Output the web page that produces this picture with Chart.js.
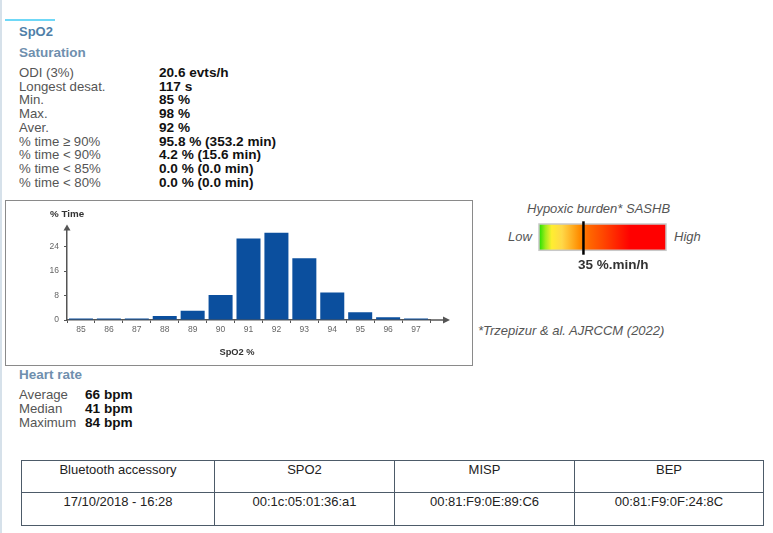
<!DOCTYPE html>
<html>
<head>
<meta charset="utf-8">
<script src="https://cdn.jsdelivr.net/npm/chart.js@4.4.1/dist/chart.umd.min.js"></script>
<style>
  body { margin: 0; width: 773px; height: 533px; background: #fff; position: relative; overflow: hidden;
         font-family: "Liberation Sans", Arial, sans-serif; }
  .abs { position: absolute; white-space: nowrap; }
  .head { font-weight: bold; font-size: 13.5px; line-height: 16px; color: #6f8fae; }
  .lbl { font-size: 13.2px; color: #555; }
  .val { font-size: 13.6px; color: #111; font-weight: bold; }
  .it { font-style: italic; color: #555; font-size: 13px; line-height: 16px; }
  table.acc { position: absolute; left: 21px; top: 460px; border-collapse: collapse; font-size: 13px; color: #222; }
  table.acc td { border: 1.5px solid #4d5b69; text-align: center; vertical-align: top; padding: 1px 0 0 0; }
</style>
</head>
<body>
<div class="abs" style="left:0;top:0;width:2px;height:533px;background:#d6e1ea"></div>
<div class="abs" style="left:5px;top:18.8px;width:50px;height:2.2px;background:#6fd8f7"></div>

<div class="abs head" style="left:19px;top:24.3px;font-size:13px;color:#4f7fa9">SpO2</div>
<div class="abs head" style="left:19px;top:44.7px">Saturation</div>

<div class="abs lbl" style="left:19px;top:65.8px;line-height:13.75px">
  ODI (3%)<br>Longest desat.<br>Min.<br>Max.<br>Aver.<br>% time &ge; 90%<br>% time &lt; 90%<br>% time &lt; 85%<br>% time &lt; 80%
</div>
<div class="abs val" style="left:159px;top:65.8px;line-height:13.75px">
  20.6 evts/h<br>117 s<br>85 %<br>98 %<br>92 %<br>95.8 % (353.2 min)<br>4.2 % (15.6 min)<br>0.0 % (0.0 min)<br>0.0 % (0.0 min)
</div>

<div class="abs" style="left:5px;top:200px;width:468px;height:166px;box-sizing:border-box;border:1px solid #8a8a8a"></div>
<canvas id="histo" class="abs" style="left:7px;top:201px" width="465" height="164"></canvas>

<div class="abs it" style="left:527px;top:201px">Hypoxic burden* SASHB</div>
<div class="abs it" style="left:508px;top:229px">Low</div>
<div class="abs it" style="left:674px;top:229px">High</div>
<canvas id="gauge" class="abs" style="left:536px;top:218px" width="133" height="40"></canvas>
<div class="abs" style="left:578px;top:257px;font-size:13.5px;line-height:16px;font-weight:bold;color:#333">35 %.min/h</div>
<div class="abs it" style="left:478px;top:323px">*Trzepizur &amp; al. AJRCCM (2022)</div>

<div class="abs head" style="left:19px;top:367px">Heart rate</div>
<div class="abs lbl" style="left:19px;top:388.1px;line-height:13.8px">Average<br>Median<br>Maximum</div>
<div class="abs val" style="left:85px;top:388.1px;line-height:13.8px">66 bpm<br>41 bpm<br>84 bpm</div>

<table class="acc">
  <tr style="height:32px">
    <td style="width:192px">Bluetooth accessory</td>
    <td style="width:179px">SPO2</td>
    <td style="width:179px">MISP</td>
    <td style="width:188px">BEP</td>
  </tr>
  <tr style="height:33px">
    <td>17/10/2018 - 16:28</td>
    <td>00:1c:05:01:36:a1</td>
    <td>00:81:F9:0E:89:C6</td>
    <td>00:81:F9:0F:24:8C</td>
  </tr>
</table>

<script>
// SpO2 histogram values, % of time per saturation level
const spo2Levels = ['85', '86', '87', '88', '89', '90', '91', '92', '93', '94', '95', '96', '97'];
const timePercent = [0.5, 0.5, 0.5, 1.3, 3.0, 8.2, 26.7, 28.6, 20.2, 9.0, 2.5, 0.9, 0.5];
const yTicks = [0, 8, 16, 24];
const yMax = 30;

// Hypoxic burden gauge
const gaugeRange = [0, 100];
const hypoxicBurden = 35;

const axisColor = '#555';
const tickFont = { size: 8.5, family: '"Liberation Sans", Arial, sans-serif' };

// Arrow heads on both axes plus the two axis titles
const axisArrows = {
    id: 'axisArrows',
    afterDraw(chart) {
        const ctx = chart.ctx;
        const a = chart.chartArea;
        ctx.save();
        ctx.strokeStyle = axisColor;
        ctx.fillStyle = axisColor;
        ctx.lineWidth = 1.5;

        // x axis extension + arrow
        ctx.beginPath();
        ctx.moveTo(a.right, a.bottom);
        ctx.lineTo(a.right + 14, a.bottom);
        ctx.stroke();
        ctx.beginPath();
        ctx.moveTo(a.right + 20, a.bottom);
        ctx.lineTo(a.right + 13, a.bottom - 3.5);
        ctx.lineTo(a.right + 13, a.bottom + 3.5);
        ctx.closePath();
        ctx.fill();

        // y axis arrow
        ctx.beginPath();
        ctx.moveTo(a.left, a.top - 4);
        ctx.lineTo(a.left - 3.5, a.top + 2);
        ctx.lineTo(a.left + 3.5, a.top + 2);
        ctx.closePath();
        ctx.fill();

        ctx.fillStyle = '#333';
        ctx.font = 'bold 9.8px "Liberation Sans", Arial, sans-serif';
        ctx.textBaseline = 'middle';
        ctx.textAlign = 'left';
        ctx.fillText('% Time', a.left - 17, 13);
        ctx.font = 'bold 9.3px "Liberation Sans", Arial, sans-serif';
        ctx.textAlign = 'center';
        ctx.fillText('SpO2 %', 230, 151.5);
        ctx.restore();
    }
};

new Chart(document.getElementById('histo'), {
    type: 'bar',
    data: {
        labels: spo2Levels,
        datasets: [{
            data: timePercent,
            backgroundColor: '#0b4f9e',
            borderWidth: 0,
            barPercentage: 1,
            categoryPercentage: 0.86
        }]
    },
    options: {
        responsive: false,
        animation: false,
        layout: { padding: { top: 27.4, right: 42, left: 0, bottom: 0 } },
        scales: {
            x: {
                afterFit: s => { s.height = 45; },
                grid: { display: true, drawOnChartArea: false, offset: true, tickLength: 3, color: axisColor },
                border: { display: true, color: axisColor, width: 1.5 },
                ticks: { color: '#666', padding: 2, font: tickFont, maxRotation: 0 }
            },
            y: {
                min: 0,
                max: yMax,
                afterFit: s => { s.width = 60; },
                afterBuildTicks: s => { s.ticks = yTicks.map(v => ({ value: v })); },
                grid: { display: true, drawOnChartArea: false, tickLength: 3, color: axisColor },
                border: { display: true, color: axisColor, width: 1.5 },
                ticks: { color: '#666', padding: 5, font: tickFont }
            }
        },
        plugins: { legend: { display: false }, tooltip: { enabled: false } }
    },
    plugins: [axisArrows]
});

// marker + frame for the gauge
const gaugeMarker = {
    id: 'gaugeMarker',
    afterDatasetsDraw(chart) {
        const ctx = chart.ctx;
        const a = chart.chartArea;
        ctx.save();
        ctx.strokeStyle = '#c8c8c8';
        ctx.lineWidth = 1.5;
        ctx.strokeRect(a.left, a.top, a.right - a.left, a.bottom - a.top);
        const x = chart.scales.x.getPixelForValue(hypoxicBurden);
        ctx.strokeStyle = '#000';
        ctx.lineWidth = 2.5;
        ctx.beginPath();
        ctx.moveTo(x, 3.3);
        ctx.lineTo(x, 36.7);
        ctx.stroke();
        ctx.restore();
    }
};

new Chart(document.getElementById('gauge'), {
    type: 'bar',
    data: {
        labels: ['SASHB'],
        datasets: [{
            data: [gaugeRange[1]],
            borderWidth: 0,
            barPercentage: 1,
            categoryPercentage: 1,
            backgroundColor: c => {
                const a = c.chart.chartArea;
                if (!a) return '#ff0000';
                const g = c.chart.ctx.createLinearGradient(a.left, 0, a.right, 0);
                g.addColorStop(0, '#1fe000');
                g.addColorStop(0.05, '#a0ec1c');
                g.addColorStop(0.1, '#ffee30');
                g.addColorStop(0.18, '#ffd848');
                g.addColorStop(0.26, '#ffae20');
                g.addColorStop(0.32, '#ff8c00');
                g.addColorStop(0.38, '#ff6c00');
                g.addColorStop(0.5, '#ff4800');
                g.addColorStop(0.64, '#ff1a00');
                g.addColorStop(0.72, '#ff0000');
                g.addColorStop(1, '#ff0000');
                return g;
            }
        }]
    },
    options: {
        indexAxis: 'y',
        responsive: false,
        animation: false,
        layout: { padding: { left: 3, right: 3, top: 6, bottom: 7.7 } },
        scales: {
            x: { display: false, min: gaugeRange[0], max: gaugeRange[1] },
            y: { display: false }
        },
        plugins: { legend: { display: false }, tooltip: { enabled: false } }
    },
    plugins: [gaugeMarker]
});
</script>
</body>
</html>
